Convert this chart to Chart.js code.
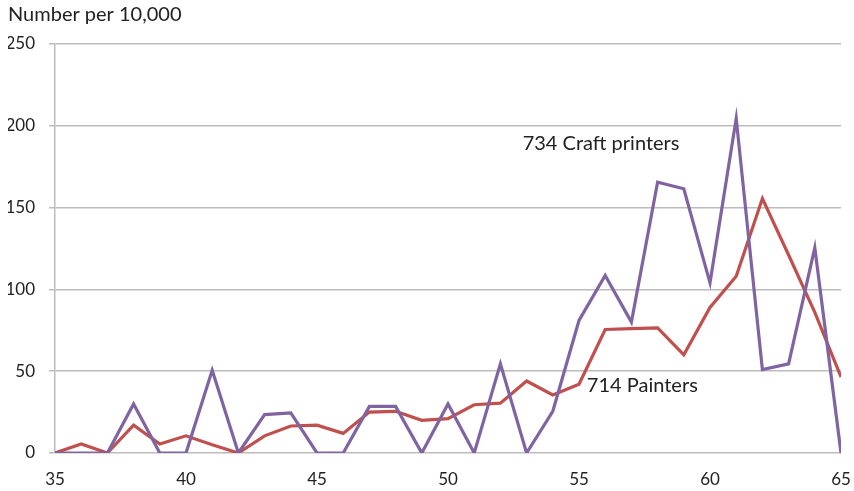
<!DOCTYPE html>
<html>
<head>
<meta charset="utf-8">
<title>Number per 10,000</title>
<script src="https://cdn.jsdelivr.net/npm/chart.js@4/dist/chart.umd.min.js"></script>
<style>
    body { margin: 0; background: #fff; }
    .chart-container { width: 854px; height: 491px; position: relative; }
</style>
</head>
<body>
<div class="chart-container">
    <canvas id="myChart"></canvas>
</div>
<script>
// Age (years) on the x axis
const ages = [35, 36, 37, 38, 39, 40, 41, 42, 43, 44, 45, 46, 47, 48, 49, 50,
              51, 52, 53, 54, 55, 56, 57, 58, 59, 60, 61, 62, 63, 64, 65];

// 734 Craft printers, number per 10,000
const craftPrinters = [0, 0, 0, 30, 0, 0, 50.5, 0, 23.5, 24.5, 0, 0, 28.5, 28.5, 0, 30,
                       0, 54.5, 0, 25.5, 81, 108.5, 80, 165.5, 161.5, 104, 204.5, 51, 54.5, 125.5, 0];

// 714 Painters, number per 10,000
const painters = [0, 5.5, 0, 17, 5.5, 10.5, 5, 0, 10.5, 16.5, 17, 12, 25, 25.5, 20, 21,
                  29.5, 30.5, 44, 35.5, 42, 75.5, 76, 76.5, 60, 89, 108, 155.5, 121, 86, 46.5];

const yTicks = [0, 50, 100, 150, 200, 250];

// text labels placed next to the lines, in data units
const seriesLabels = [
    { text: '734 Craft printers', x: 52.85, y: 189 },
    { text: '714 Painters', x: 55.3, y: 41.5 }
];

const fontFamily = 'Lato, "Open Sans", sans-serif';
const textColor = '#222';
const gridColor = '#bcbcbc';

function toPoints(values) {
    return ages.map((age, i) => ({ x: age, y: values[i] }));
}

// draws the in-plot series labels at their data positions
const seriesLabelPlugin = {
    id: 'seriesLabels',
    afterDatasetsDraw(chart) {
        const ctx = chart.ctx;
        const xScale = chart.scales.x;
        const yScale = chart.scales.y;
        ctx.save();
        ctx.font = '20px ' + fontFamily;
        ctx.fillStyle = textColor;
        ctx.textAlign = 'left';
        ctx.textBaseline = 'middle';
        seriesLabels.forEach(label => {
            ctx.fillText(label.text, xScale.getPixelForValue(label.x), yScale.getPixelForValue(label.y));
        });
        ctx.restore();
    }
};

const ctx = document.getElementById('myChart').getContext('2d');
const myChart = new Chart(ctx, {
    type: 'line',
    data: {
        datasets: [
            {
                label: '734 Craft printers',
                data: toPoints(craftPrinters),
                borderColor: '#8064a2',
                borderWidth: 3.2,
                pointRadius: 0,
                tension: 0,
                fill: false
            },
            {
                label: '714 Painters',
                data: toPoints(painters),
                borderColor: '#c0504d',
                borderWidth: 3.2,
                pointRadius: 0,
                tension: 0,
                fill: false
            }
        ]
    },
    options: {
        responsive: true,
        maintainAspectRatio: false,
        animation: false,
        devicePixelRatio: 1,
        layout: {
            padding: { left: 8, right: 13, top: 0, bottom: 6 }
        },
        plugins: {
            legend: { display: false },
            tooltip: { enabled: false },
            title: {
                display: true,
                text: 'Number per 10,000',
                align: 'start',
                color: textColor,
                font: { family: fontFamily, size: 20, weight: 'normal' },
                padding: { top: 3, bottom: 17 }
            }
        },
        scales: {
            x: {
                type: 'linear',
                min: 35,
                max: 65,
                grid: { display: false },
                border: { display: false },
                ticks: {
                    stepSize: 5,
                    padding: 8,
                    color: textColor,
                    maxRotation: 0,
                    font: { family: fontFamily, size: 17 }
                },
                afterFit(scale) {
                    scale.height = 32;
                    scale.paddingRight = 0; // let the last label hang into the right padding
                }
            },
            y: {
                min: 0,
                max: 250,
                afterBuildTicks(scale) {
                    scale.ticks = yTicks.map(v => ({ value: v }));
                },
                grid: {
                    color: gridColor,
                    lineWidth: 1.5,
                    drawTicks: true,
                    tickLength: 6,
                    tickColor: gridColor
                },
                border: { display: true, color: gridColor, width: 1.5 },
                ticks: {
                    padding: 14,
                    color: textColor,
                    font: { family: fontFamily, size: 17 }
                },
                afterFit(scale) { scale.width = 47; }
            }
        }
    },
    plugins: [seriesLabelPlugin]
});
</script>
</body>
</html>
